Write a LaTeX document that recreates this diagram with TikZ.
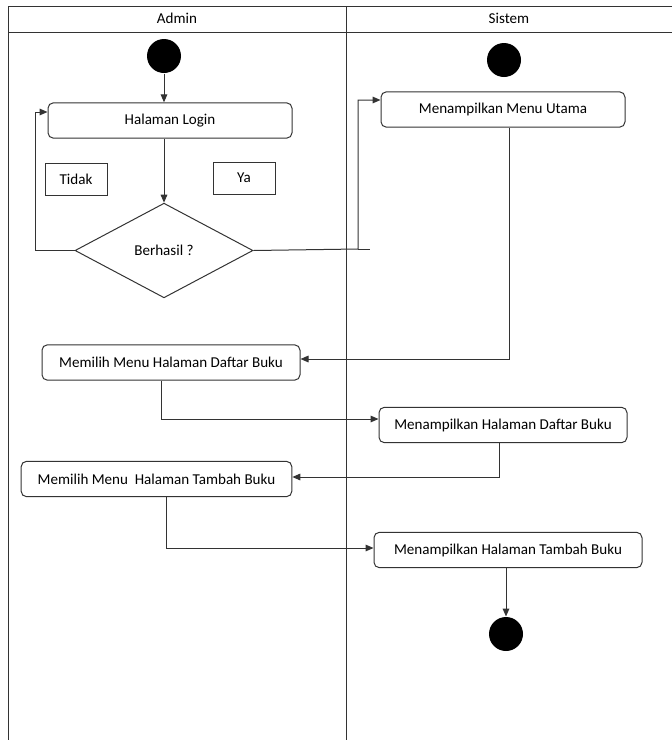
\documentclass[tikz,border=0pt]{standalone}
\usepackage{fontspec}
\setmainfont{Carlito}
\usetikzlibrary{positioning,arrows.meta,shapes.geometric}

\begin{document}
\begin{tikzpicture}[
    x=0.75pt, y=-0.75pt,
    line width=0.75pt,
    font=\fontsize{11.3}{13.5}\selectfont,
    act/.style={draw=black!80, rounded corners=4pt, minimum height=26.5pt, inner sep=0pt},
    lbl/.style={draw=black!80, minimum width=46.5pt, minimum height=24pt},
    dec/.style={draw=black!80, diamond, minimum width=133.5pt, minimum height=71pt, inner sep=0pt},
    dot/.style={circle, fill=black, minimum size=25.5pt, inner sep=0pt},
    arrow/.style={-{Triangle[length=6pt,width=5pt]}, draw=black!80},
    lane/.style={draw=black!80}
]
    \useasboundingbox (0,0) rectangle (672,740);

    \draw[lane] (8,740) -- (8,6) -- (672,6);
    \draw[lane] (8,32) -- (672,32);
    \draw[lane] (346,6) -- (346,740);
    \node (admin) at (177,18) {Admin};
    \node (sistem) at (509,18) {Sistem};

    \node[dot] (startA) at (164,56) {};
    \node[act, minimum width=183pt] (login) at (170,120.5) {Halaman Login};
    \node[lbl] (tidak) at (76,179) {Tidak};
    \node[lbl] (ya) at (244,178) {Ya};
    \node[dec] (berhasil) at (164,250.5) {Berhasil ?};
    \node[dot] (startS) at (504,60) {};
    \node[act, minimum width=183pt] (utama) at (503,109.5) {Menampilkan Menu Utama};
    \node[act, minimum width=193.5pt] (pilihDaftar) at (171,362.5) {Memilih Menu Halaman Daftar Buku};
    \node[act, minimum width=186pt] (tampilDaftar) at (503,425) {Menampilkan Halaman Daftar Buku};
    \node[act, minimum width=203pt] (pilihTambah) at (156.5,479) {Memilih Menu\ \ Halaman Tambah Buku};
    \node[act, minimum width=201pt] (tampilTambah) at (508,550) {Menampilkan Halaman Tambah Buku};
    \node[dot] (endS) at (506,634) {};

    \coordinate (tidakTurn) at (35,250.5);
    \coordinate (yaTurn) at (358,249);

    \draw[arrow] (startA) -- (startA |- login.north);
    \draw[arrow] (login.south -| 164,0) -- (berhasil.north);
    \draw[arrow] (berhasil.west) -- (tidakTurn) |- (login.west |- 0,112);
    \draw[arrow] (berhasil.east) -- (yaTurn) |- (utama.west |- 0,100);
    \draw[draw=black!80] (yaTurn) -- ++(12,0);
    \draw[arrow] (utama.south -| 509,0) |- (pilihDaftar.east |- 0,359);
    \draw[arrow] (pilihDaftar.south -| 161,0) |- (tampilDaftar.west |- 0,419);
    \draw[arrow] (tampilDaftar.south -| 499,0) |- (pilihTambah.east |- 0,477);
    \draw[arrow] (pilihTambah.south -| 166,0) |- (tampilTambah.west |- 0,548);
    \draw[arrow] (tampilTambah.south -| 506,0) -- (endS);
\end{tikzpicture}
\end{document}
